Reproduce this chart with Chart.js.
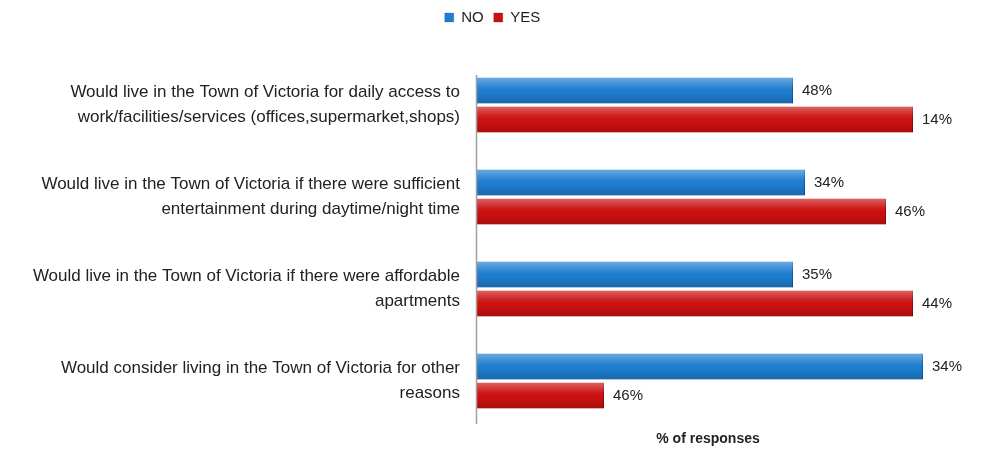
<!DOCTYPE html>
<html>
<head>
<meta charset="utf-8">
<script src="https://cdn.jsdelivr.net/npm/chart.js@4"></script>
<style>
  html, body { margin: 0; padding: 0; background: #fff; }
  #wrap { width: 985px; height: 451px; }
</style>
</head>
<body>
<div id="wrap"><canvas id="graphique"></canvas></div>
<script>
// Questions (one per group of bars)
const categories = [
  ['Would live in the Town of Victoria for daily access to', 'work/facilities/services (offices,supermarket,shops)'],
  ['Would live in the Town of Victoria if there were sufficient', 'entertainment during daytime/night time'],
  ['Would live in the Town of Victoria if there were affordable', 'apartments'],
  ['Would consider living in the Town of Victoria for other', 'reasons']
];

// Bar lengths as drawn in the picture (axis has no ticks)
const barresNon = [31.6, 32.8, 31.6, 44.6];
const barresOui = [43.6, 40.9, 43.6, 12.7];

// Labels printed next to each bar
const etiquettesNon = ['48%', '34%', '35%', '34%'];
const etiquettesOui = ['14%', '46%', '44%', '46%'];

const titreAxe = '% of responses';

const BLEU = '#1e7dd0';
const ROUGE = '#cc1010';
const POLICE = "'Liberation Sans', Arial, sans-serif";

// Gives the legend some room below it
const margeLegende = {
  id: 'margeLegende',
  beforeInit(chart) {
    const fit = chart.legend.fit;
    chart.legend.fit = function () {
      fit.bind(chart.legend)();
      this.height += 24;
    };
  }
};

// Gloss on the bars, % text at the end of each bar, axis line and axis title
const etiquettesBarres = {
  id: 'etiquettesBarres',
  afterDatasetsDraw(chart) {
    const ctx = chart.ctx;
    const area = chart.chartArea;
    ctx.save();

    // petit effet de relief comme sur l'original
    [0, 1].forEach(i => {
      chart.getDatasetMeta(i).data.forEach(barre => {
        const haut = barre.y - barre.height / 2;
        const g = ctx.createLinearGradient(0, haut, 0, haut + barre.height);
        g.addColorStop(0, 'rgba(255,255,255,0.35)');
        g.addColorStop(0.35, 'rgba(255,255,255,0.08)');
        g.addColorStop(0.6, 'rgba(0,0,0,0)');
        g.addColorStop(1, 'rgba(0,0,0,0.18)');
        ctx.fillStyle = g;
        ctx.fillRect(barre.base, haut, barre.x - barre.base, barre.height);
      });
    });

    ctx.strokeStyle = '#a0a0a0';
    ctx.lineWidth = 1.5;
    ctx.beginPath();
    ctx.moveTo(area.left - 0.5, 75);
    ctx.lineTo(area.left - 0.5, 424);
    ctx.stroke();

    ctx.font = '15px ' + POLICE;
    ctx.fillStyle = '#222';
    ctx.textBaseline = 'middle';
    ctx.textAlign = 'left';
    [etiquettesNon, etiquettesOui].forEach((etiquettes, i) => {
      chart.getDatasetMeta(i).data.forEach((barre, j) => {
        ctx.fillText(etiquettes[j], barre.x + 9, barre.y);
      });
    });

    ctx.font = 'bold 14px ' + POLICE;
    ctx.textAlign = 'center';
    ctx.fillText(titreAxe, 708, 439);
    ctx.restore();
  }
};

new Chart(document.getElementById('graphique'), {
  type: 'bar',
  data: {
    labels: categories,
    datasets: [
      { label: 'NO', data: barresNon, backgroundColor: BLEU, borderColor: '#0d5a9e', borderWidth: { right: 1 } },
      { label: 'YES', data: barresOui, backgroundColor: ROUGE, borderColor: '#8a0a0a', borderWidth: { right: 1 } }
    ]
  },
  options: {
    indexAxis: 'y',
    responsive: true,
    maintainAspectRatio: false,
    animation: false,
    categoryPercentage: 0.63,
    barPercentage: 0.9,
    layout: { padding: { top: 0, left: 0, right: 0, bottom: 24 } },
    plugins: {
      legend: {
        position: 'top',
        labels: {
          boxWidth: 9,
          boxHeight: 9,
          padding: 10,
          color: '#222',
          font: { family: POLICE, size: 15 }
        }
      },
      tooltip: { enabled: false }
    },
    scales: {
      x: {
        display: false,
        min: 0,
        max: 50.8
      },
      y: {
        grid: { display: false },
        border: { display: false },
        ticks: {
          color: '#222',
          padding: 9,
          font: { family: POLICE, size: 17, lineHeight: 1.5 }
        },
        afterFit(scale) {
          scale.width = 477;
          // les libellés sur 2 lignes ne doivent pas réduire la zone du graphique
          scale.paddingTop = 0;
          scale.paddingBottom = 0;
        }
      }
    }
  },
  plugins: [margeLegende, etiquettesBarres]
});
</script>
</body>
</html>
